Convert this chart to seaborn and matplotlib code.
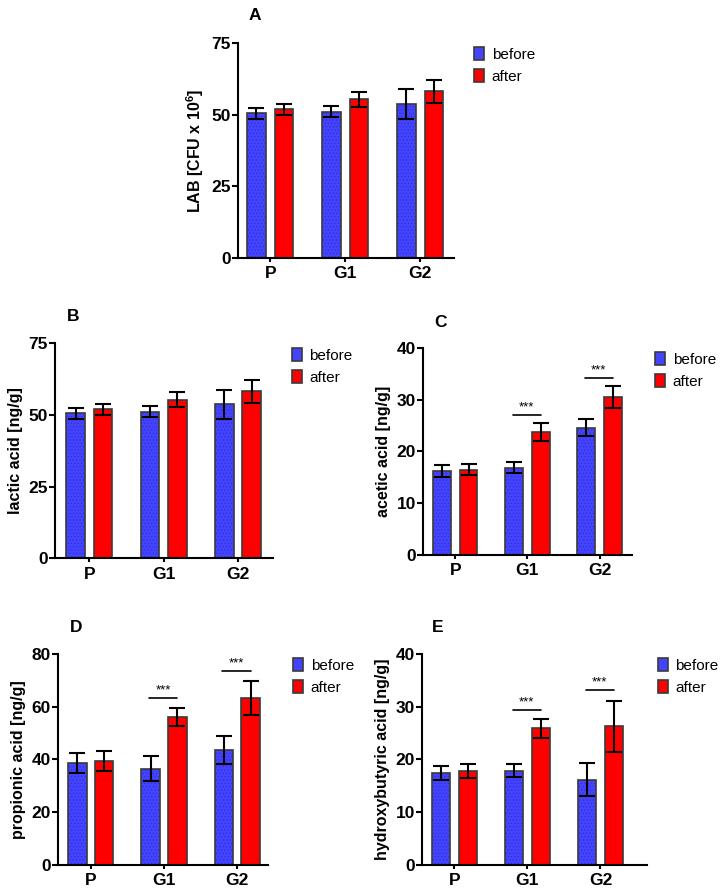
import numpy as np
import pandas as pd
import seaborn as sns
import matplotlib.pyplot as plt
from matplotlib.patches import Patch, Rectangle

sns.set_style("ticks")
plt.rcParams['font.family'] = ['Liberation Sans', 'DejaVu Sans']
plt.rcParams['mathtext.default'] = 'regular'
plt.rcParams['hatch.linewidth'] = 0.5
plt.rcParams['text.color'] = 'black'
plt.rcParams['axes.labelcolor'] = 'black'
plt.rcParams['xtick.color'] = 'black'
plt.rcParams['ytick.color'] = 'black'

groups = ["P", "G1", "G2"]
times = ["before", "after"]

lab_before = [50.5, 51.1, 53.7]
lab_before_sd = [1.9, 1.9, 5.1]
lab_after = [51.9, 55.3, 58.2]
lab_after_sd = [1.9, 2.7, 4.0]

acetic_before = [16.2, 16.9, 24.6]
acetic_before_sd = [1.1, 1.1, 1.7]
acetic_after = [16.5, 23.8, 30.5]
acetic_after_sd = [1.1, 1.8, 2.1]

propionic_before = [38.7, 36.5, 43.6]
propionic_before_sd = [3.8, 4.7, 5.2]
propionic_after = [39.6, 56.2, 63.3]
propionic_after_sd = [3.8, 3.5, 6.5]

hydroxy_before = [17.4, 17.9, 16.2]
hydroxy_before_sd = [1.3, 1.2, 3.2]
hydroxy_after = [17.8, 25.9, 26.3]
hydroxy_after_sd = [1.35, 1.85, 4.8]

# significance bars (height) for G1, G2
acetic_sig = [None, 27.1, 34.2]
propionic_sig = [None, 63.3, 73.6]
hydroxy_sig = [None, 29.4, 33.2]

blue = "#4444ff"
dots = "#2f2fdc"
red = "#ff0000"
edge = "#3a3a3a"

fig = plt.figure(figsize=(7.24, 8.96), dpi=100)


def panel(rect, before, before_sd, after, after_sd, ylabel, yticks, xlim,
          letter, letter_pos, leg_pos, sig=None):
    ax = fig.add_axes(rect)
    df = pd.DataFrame({
        "group": groups * 2,
        "time": ["before"] * 3 + ["after"] * 3,
        "value": list(before) + list(after),
        "sd": list(before_sd) + list(after_sd),
    })
    sns.barplot(data=df, x="group", y="value", hue="time", hue_order=times,
                palette=[blue, red], saturation=1, errorbar=None, width=0.733,
                gap=0.32, edgecolor=edge, linewidth=1.2, legend=False, ax=ax)
    bars = list(ax.patches)
    for i, p in enumerate(bars):
        if i < 3:
            # dotted fill: hatch takes the edge colour, so redraw the outline on top
            p.set_edgecolor(dots)
            p.set_hatch(".....")
            p.set_linewidth(0)
            ax.add_patch(Rectangle((p.get_x(), p.get_y()), p.get_width(),
                                   p.get_height(), fill=False, edgecolor=edge,
                                   linewidth=1.2, zorder=p.get_zorder() + 0.1))
        x = p.get_x() + p.get_width() / 2
        ax.errorbar(x, df["value"][i], yerr=df["sd"][i], color="black",
                    capsize=6, elinewidth=1.5, capthick=1.5, zorder=5)
    if sig is not None:
        for j, h in enumerate(sig):
            if h is None:
                continue
            b1 = bars[j]
            b2 = bars[j + 3]
            x1 = b1.get_x() + b1.get_width() / 2 - 0.02
            x2 = b2.get_x() + b2.get_width() / 2
            ax.plot([x1, x2], [h, h], color="black", lw=1.2)
            ax.text((x1 + x2) / 2, h + yticks[-1] * 0.008, "***", ha="center",
                    va="bottom", fontsize=9.5)
    ax.set_xlim(*xlim)
    ax.set_ylim(0, yticks[-1])
    ax.set_yticks(yticks)
    ax.set_xlabel("")
    ax.set_ylabel(ylabel, fontsize=11.5, fontweight="bold", labelpad=4)
    for lab in ax.get_xticklabels() + ax.get_yticklabels():
        lab.set_fontweight("bold")
        lab.set_fontsize(12.5)
    ax.tick_params(axis="y", length=4, width=1.5, pad=1)
    ax.tick_params(axis="x", length=3, width=1.5, pad=3)
    sns.despine(ax=ax)
    for s in ["left", "bottom"]:
        ax.spines[s].set_linewidth(1.5)
        ax.spines[s].set_color("black")
    fig.text(letter_pos[0], letter_pos[1], letter, fontsize=12.5,
             fontweight="bold", ha="left", va="center")
    handles = [Patch(facecolor=blue, edgecolor=edge, linewidth=1.2),
               Patch(facecolor=red, edgecolor=edge, linewidth=1.2)]
    fig.legend(handles, times, loc="upper left", bbox_to_anchor=leg_pos,
               frameon=False, fontsize=11, handlelength=0.65, handleheight=0.95,
               handletextpad=0.5, labelspacing=0.45, borderpad=0,
               borderaxespad=0)
    return ax


panel([0.3287, 0.712, 0.2983, 0.240], lab_before, lab_before_sd, lab_after,
      lab_after_sd, r"LAB [CFU x 10$^{6}$]", [0, 25, 50, 75], (-0.43, 2.45),
      "A", (0.344, 0.983), (0.6547, 0.9475))
panel([0.076, 0.377, 0.301, 0.240], lab_before, lab_before_sd, lab_after,
      lab_after_sd, "lactic acid [ng/g]", [0, 25, 50, 75], (-0.46, 2.47),
      "B", (0.093, 0.647), (0.403, 0.6116))
panel([0.584, 0.3806, 0.289, 0.231], acetic_before, acetic_before_sd,
      acetic_after, acetic_after_sd, "acetic acid [ng/g]", [0, 10, 20, 30, 40],
      (-0.45, 2.45), "C", (0.600, 0.6406), (0.9047, 0.607), acetic_sig)
panel([0.080, 0.0346, 0.290, 0.2355], propionic_before, propionic_before_sd,
      propionic_after, propionic_after_sd, "propionic acid [ng/g]",
      [0, 20, 40, 60, 80], (-0.45, 2.42), "D", (0.096, 0.300),
      (0.4047, 0.2656), propionic_sig)
panel([0.583, 0.0346, 0.311, 0.2355], hydroxy_before, hydroxy_before_sd,
      hydroxy_after, hydroxy_after_sd, "hydroxybutyric acid [ng/g]",
      [0, 10, 20, 30, 40], (-0.44, 2.64), "E", (0.597, 0.300),
      (0.9088, 0.2656), hydroxy_sig)

fig.savefig("out.png", dpi=100, facecolor="white")
